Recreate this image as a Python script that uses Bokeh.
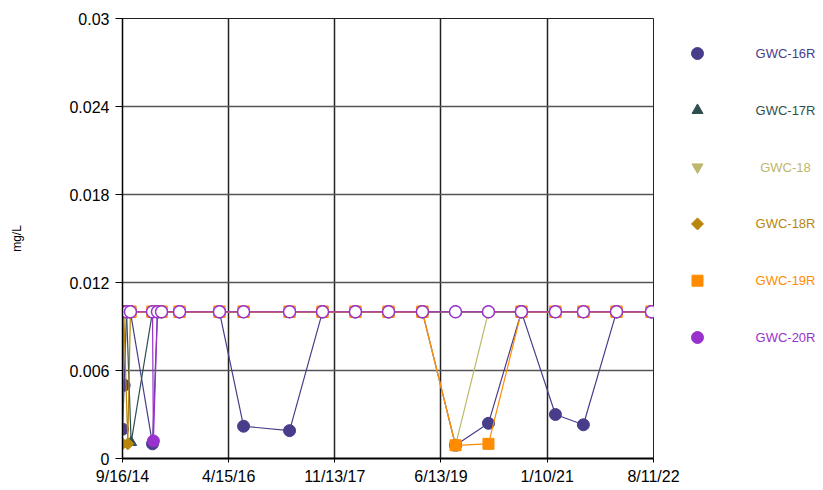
import math
import pandas as pd
from bokeh.plotting import figure
from bokeh.layouts import row
from bokeh.models import FixedTicker, ColumnDataSource, Range1d
from bokeh.core.properties import value
from bokeh.embed import file_html
from bokeh.resources import INLINE

FONT = "Liberation Sans"

# ---------------- data ----------------
series_names = ["GWC-16R", "GWC-17R", "GWC-18", "GWC-18R", "GWC-19R", "GWC-20R"]
series_colors = ["#483D8B", "#2F4F4F", "#BDB76B", "#B8860B", "#FF8C00", "#9932CC"]
series_markers = ["circle", "triangle", "inverted_triangle", "diamond", "square", "circle"]

x_tick_labels = ["9/16/14", "4/15/16", "11/13/17", "6/13/19", "1/10/21", "8/11/22"]
y_ticks = [0, 0.006, 0.012, 0.018, 0.024, 0.03]
y_tick_labels = ["0", "0.006", "0.012", "0.018", "0.024", "0.03"]

# nd = 1 marks a non-detect plotted at the reporting limit (hollow marker)
gwc16r_dates = ["2014-09-16", "2014-09-25", "2014-10-08", "2014-10-29", "2015-02-26", "2015-03-25",
                "2015-04-16", "2015-07-23", "2016-02-25", "2016-07-05", "2017-03-12", "2017-09-07",
                "2018-03-05", "2018-09-01", "2019-03-04", "2019-08-31", "2020-02-26", "2020-08-23",
                "2021-02-24", "2021-07-26", "2022-01-22", "2022-07-31"]
gwc16r_values = [0.002, 0.005, 0.01, 0.01, 0.001, 0.01, 0.01, 0.01, 0.01, 0.0022, 0.0019, 0.01,
                 0.01, 0.01, 0.01, 0.0009, 0.0024, 0.01, 0.003, 0.0023, 0.01, 0.01]
gwc16r_nd = [0, 0, 1, 1, 0, 1, 1, 1, 1, 0, 0, 1, 1, 1, 1, 0, 0, 1, 0, 0, 1, 1]

gwc17r_dates = ["2014-09-16", "2014-10-08", "2014-11-02", "2015-02-26", "2015-03-25", "2015-04-16",
                "2015-07-23", "2016-02-25", "2016-07-05", "2017-03-12", "2017-09-07", "2018-03-05",
                "2018-09-01", "2019-03-04", "2019-08-31", "2020-02-26", "2020-08-23", "2021-02-24",
                "2021-07-26", "2022-01-22", "2022-07-31"]
gwc17r_values = [0.01, 0.01, 0.0011, 0.01, 0.01, 0.01, 0.01, 0.01, 0.01, 0.01, 0.01, 0.01,
                 0.01, 0.01, 0.01, 0.01, 0.01, 0.01, 0.01, 0.01, 0.01]
gwc17r_nd = [1, 1, 0, 1, 1, 1, 1, 1, 1, 1, 1, 1, 1, 1, 1, 1, 1, 1, 1, 1, 1]

gwc18_dates = ["2014-09-16", "2014-10-08", "2014-10-29", "2015-02-26", "2015-03-25", "2015-04-16",
               "2015-07-23", "2016-02-25", "2016-07-05", "2017-03-12", "2017-09-07", "2018-03-05",
               "2018-09-01", "2019-03-04", "2019-08-31", "2020-02-26", "2020-08-23", "2021-02-24",
               "2021-07-26", "2022-01-22", "2022-07-31"]
gwc18_values = [0.01, 0.01, 0.01, 0.01, 0.01, 0.01, 0.01, 0.01, 0.01, 0.01, 0.01, 0.01,
                0.01, 0.01, 0.0009, 0.01, 0.01, 0.01, 0.01, 0.01, 0.01]
gwc18_nd = [1, 1, 1, 1, 1, 1, 1, 1, 1, 1, 1, 1, 1, 1, 0, 1, 1, 1, 1, 1, 1]

gwc18r_dates = ["2014-09-16", "2014-09-23", "2014-10-15", "2014-10-29", "2015-02-26", "2015-03-25",
                "2015-04-16", "2015-07-23", "2016-02-25", "2016-07-05", "2017-03-12", "2017-09-07",
                "2018-03-05", "2018-09-01", "2019-03-04", "2019-08-31", "2020-02-26", "2020-08-23",
                "2021-02-24", "2021-07-26", "2022-01-22", "2022-07-31"]
gwc18r_values = [0.001, 0.01, 0.001, 0.01, 0.01, 0.01, 0.01, 0.01, 0.01, 0.01, 0.01, 0.01,
                 0.01, 0.01, 0.01, 0.01, 0.01, 0.01, 0.01, 0.01, 0.01, 0.01]
gwc18r_nd = [0, 1, 0, 1, 1, 1, 1, 1, 1, 1, 1, 1, 1, 1, 1, 1, 1, 1, 1, 1, 1, 1]

gwc19r_dates = ["2014-09-16", "2014-10-08", "2014-10-29", "2015-02-26", "2015-03-25", "2015-04-16",
                "2015-07-23", "2016-02-25", "2016-07-05", "2017-03-12", "2017-09-07", "2018-03-05",
                "2018-09-01", "2019-03-04", "2019-08-31", "2020-02-26", "2020-08-23", "2021-02-24",
                "2021-07-26", "2022-01-22", "2022-07-31"]
gwc19r_values = [0.01, 0.01, 0.01, 0.01, 0.01, 0.01, 0.01, 0.01, 0.01, 0.01, 0.01, 0.01,
                 0.01, 0.01, 0.0009, 0.001, 0.01, 0.01, 0.01, 0.01, 0.01]
gwc19r_nd = [1, 1, 1, 1, 1, 1, 1, 1, 1, 1, 1, 1, 1, 1, 0, 0, 1, 1, 1, 1, 1]

gwc20r_dates = ["2014-09-16", "2014-10-08", "2014-10-29", "2015-02-26", "2015-03-03", "2015-03-25",
                "2015-04-16", "2015-07-23", "2016-02-25", "2016-07-05", "2017-03-12", "2017-09-07",
                "2018-03-05", "2018-09-01", "2019-03-04", "2019-08-31", "2020-02-26", "2020-08-23",
                "2021-02-24", "2021-07-26", "2022-01-22", "2022-07-31"]
gwc20r_values = [0.01, 0.01, 0.01, 0.01, 0.0012, 0.01, 0.01, 0.01, 0.01, 0.01, 0.01, 0.01,
                 0.01, 0.01, 0.01, 0.01, 0.01, 0.01, 0.01, 0.01, 0.01, 0.01]
gwc20r_nd = [1, 1, 1, 1, 0, 1, 1, 1, 1, 1, 1, 1, 1, 1, 1, 1, 1, 1, 1, 1, 1, 1]

series_data = [
    (gwc16r_dates, gwc16r_values, gwc16r_nd),
    (gwc17r_dates, gwc17r_values, gwc17r_nd),
    (gwc18_dates, gwc18_values, gwc18_nd),
    (gwc18r_dates, gwc18r_values, gwc18r_nd),
    (gwc19r_dates, gwc19r_values, gwc19r_nd),
    (gwc20r_dates, gwc20r_values, gwc20r_nd),
]


def to_ms(ts):
    return pd.Timestamp(ts).value / 1e6


def marker_style(marker):
    # Excel-style diamond = square turned 45 degrees
    if marker == "diamond":
        return dict(marker="square", size=8.5, angle=math.pi / 4)
    if marker == "circle":
        return dict(marker="circle", size=12, angle=0)
    return dict(marker=marker, size=11, angle=0)


x_ticks = [to_ms(pd.to_datetime(t, format="%m/%d/%y")) for t in x_tick_labels]

TOP, BOTTOM, H = 18, 32, 490

# ---------------- main chart ----------------
p = figure(width=683, height=H, output_backend="svg", toolbar_location=None,
           x_range=Range1d(x_ticks[0], x_ticks[-1]), y_range=Range1d(0, 0.03),
           min_border_left=122, min_border_right=30, min_border_top=TOP, min_border_bottom=BOTTOM)
p.background_fill_color = "white"
p.border_fill_color = "white"
p.outline_line_color = "#222222"
p.outline_line_width = 1

p.xaxis.ticker = FixedTicker(ticks=x_ticks)
p.xaxis.major_label_overrides = {x_ticks[i]: x_tick_labels[i] for i in range(len(x_ticks))}
p.yaxis.ticker = FixedTicker(ticks=y_ticks)
p.yaxis.major_label_overrides = {y_ticks[i]: y_tick_labels[i] for i in range(len(y_ticks))}

for ax in (p.xaxis, p.yaxis):
    ax.major_label_text_font = FONT
    ax.major_label_text_font_size = "16px"
    ax.major_label_text_color = "black"
    ax.axis_line_color = "black"
    ax.major_tick_line_color = "black"
    ax.minor_tick_line_color = None
    ax.major_tick_in = 0
p.xaxis.axis_line_width = 2
p.yaxis.axis_line_width = 1.5
p.xaxis.major_tick_out = 4
p.yaxis.major_tick_out = 7
p.xaxis.major_label_standoff = 5
p.yaxis.major_label_standoff = 6

p.yaxis.axis_label = "mg/L"
p.yaxis.axis_label_text_font = FONT
p.yaxis.axis_label_text_font_size = "12px"
p.yaxis.axis_label_text_font_style = "normal"
p.yaxis.axis_label_text_color = "black"
p.yaxis.axis_label_standoff = 42

p.xgrid.grid_line_color = "#222222"
p.xgrid.grid_line_width = 1.5
p.ygrid.grid_line_color = "#555555"
p.ygrid.grid_line_width = 1.5

for (dates, vals, nd), name, color, marker in zip(series_data, series_names, series_colors, series_markers):
    xs = [pd.Timestamp(d) for d in dates]
    src = ColumnDataSource(dict(x=xs, y=vals))
    p.line("x", "y", source=src, line_color=color, line_width=1.2)
    det = ColumnDataSource(dict(x=[xs[i] for i in range(len(xs)) if not nd[i]],
                                y=[vals[i] for i in range(len(xs)) if not nd[i]]))
    nds = ColumnDataSource(dict(x=[xs[i] for i in range(len(xs)) if nd[i]],
                                y=[vals[i] for i in range(len(xs)) if nd[i]]))
    ms = marker_style(marker)
    p.scatter("x", "y", source=det, fill_color=color, line_color=color, line_width=1, **ms)
    p.scatter("x", "y", source=nds, fill_color="white", line_color=color, line_width=1.5, **ms)

# ---------------- legend panel ----------------
# frame of the legend panel spans the same page rows as the main frame (y = 18 .. 458)
leg = figure(width=140, height=H, output_backend="svg", toolbar_location=None,
             x_range=Range1d(0, 140), y_range=Range1d(H - BOTTOM, TOP),
             x_axis_location=None, y_axis_location=None,
             min_border_left=0, min_border_right=0, min_border_top=TOP, min_border_bottom=BOTTOM)
leg.grid.visible = False
leg.outline_line_color = None
leg.background_fill_color = "white"
leg.border_fill_color = "white"

n = len(series_names)
ly = [53 + 56.8 * i for i in range(n)]
for i in range(n):
    ms = marker_style(series_markers[i])
    leg.scatter([14], [ly[i]], fill_color=series_colors[i], line_color=series_colors[i], **ms)
leg_src = ColumnDataSource(dict(x=[102] * n, y=ly, t=series_names, c=series_colors))
leg.text("x", "y", text="t", source=leg_src, text_color="c", text_font=value(FONT),
         text_font_size="13px", text_align="center", text_baseline="middle")

layout = row(p, leg)
open("out.html", "w").write(file_html(layout, INLINE))
